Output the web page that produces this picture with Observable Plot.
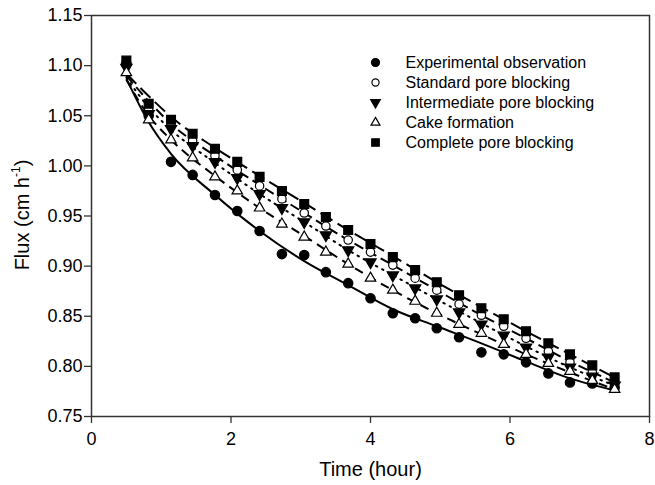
<!DOCTYPE html>
<html><head><meta charset="utf-8">
<script src="https://cdn.jsdelivr.net/npm/d3@7"></script>
<script src="https://cdn.jsdelivr.net/npm/@observablehq/plot@0.6"></script>
<style>
html,body{margin:0;padding:0;background:#fff;}
#chart{width:655px;height:485px;}
</style></head><body><div id="chart"></div>
<script>
// Measured times (hour)
const time = [0.50,0.82,1.14,1.45,1.77,2.09,2.41,2.73,3.05,3.36,3.68,4.00,4.32,4.64,4.95,5.27,5.59,5.91,6.23,6.55,6.86,7.18,7.50];
// Flux values (cm h-1) for each series
const experimental = [1.102,1.050,1.004,0.991,0.971,0.955,0.935,0.912,0.911,0.894,0.883,0.868,0.853,0.848,0.838,0.829,0.814,0.812,0.804,0.793,0.784,0.783,0.779];
const standard     = [1.102,1.056,1.040,1.025,1.010,0.996,0.980,0.967,0.953,0.940,0.926,0.914,0.901,0.888,0.876,0.862,0.851,0.840,0.828,0.815,0.804,0.794,0.784];
const intermediate = [1.098,1.052,1.037,1.020,1.004,0.988,0.972,0.958,0.944,0.931,0.916,0.904,0.891,0.878,0.867,0.854,0.842,0.831,0.819,0.809,0.799,0.790,0.781];
const cake         = [1.093,1.046,1.026,1.008,0.989,0.975,0.958,0.942,0.929,0.914,0.902,0.888,0.876,0.865,0.853,0.842,0.833,0.822,0.812,0.803,0.795,0.786,0.777];
const complete     = [1.105,1.062,1.046,1.032,1.017,1.004,0.989,0.975,0.962,0.949,0.936,0.922,0.909,0.896,0.884,0.871,0.858,0.847,0.835,0.823,0.812,0.801,0.789];

// Fitted curves
const fitTime            = [0.50,0.80,1.14,1.77,2.41,3.05,3.68,4.32,4.95,5.59,6.23,6.86,7.50];
const fitExperimental    = [1.087,1.046,1.012,0.971,0.935,0.905,0.881,0.857,0.840,0.823,0.805,0.788,0.776];
const fitStandard        = [1.090,1.066,1.042,1.010,0.981,0.953,0.926,0.901,0.876,0.851,0.828,0.805,0.784];
const fitIntermediate    = [1.088,1.060,1.036,1.003,0.972,0.944,0.916,0.891,0.867,0.843,0.820,0.799,0.781];
const fitCake            = [1.086,1.052,1.026,0.990,0.958,0.930,0.902,0.876,0.853,0.832,0.812,0.794,0.777];
const fitComplete        = [1.092,1.071,1.049,1.018,0.990,0.963,0.936,0.910,0.884,0.859,0.835,0.812,0.789];

const xTicks = [0,2,4,6,8];
const yTicks = [0.75,0.80,0.85,0.90,0.95,1.00,1.05,1.10,1.15];
const legendLabels = ["Experimental observation","Standard pore blocking","Intermediate pore blocking","Cake formation","Complete pore blocking"];

const triangleDown = {
  draw(context, size) {
    const y = -Math.sqrt(size / (Math.sqrt(3) * 3));
    context.moveTo(0, -y * 2);
    context.lineTo(-Math.sqrt(3) * y, y);
    context.lineTo(Math.sqrt(3) * y, y);
    context.closePath();
  }
};

const pts = arr => time.map((t, i) => ({t, f: arr[i]}));
const fit = arr => fitTime.map((t, i) => ({t, f: arr[i]}));

const series = [
  {values: experimental, fitv: fitExperimental, symbol: "circle", r: 4.7, fill: "black", stroke: "black", dash: null},
  {values: standard, fitv: fitStandard, symbol: "circle", r: 4.2, fill: "white", stroke: "black", dash: "10,5"},
  {values: intermediate, fitv: fitIntermediate, symbol: triangleDown, r: 4.2, fill: "black", stroke: "black", dash: "1.5,5.5"},
  {values: cake, fitv: fitCake, symbol: "triangle", r: 3.9, fill: "white", stroke: "black", dash: "9,6"},
  {values: complete, fitv: fitComplete, symbol: "square", r: 5.0, fill: "black", stroke: "black", dash: "14,6"}
];

const marks = [];
series.forEach(s => {
  marks.push(Plot.line(fit(s.fitv), {x: "t", y: "f", curve: "monotone-x", stroke: "black", strokeWidth: 2,
    strokeDasharray: s.dash, strokeLinecap: s.dash === "1.5,5.5" ? "round" : "butt"}));
});
series.forEach(s => {
  marks.push(Plot.dot(pts(s.values), {x: "t", y: "f", symbol: s.symbol, r: s.r, fill: s.fill, stroke: s.stroke, strokeWidth: 1.2}));
});
// legend
series.forEach((s, i) => {
  marks.push(Plot.dot([legendLabels[i]], {frameAnchor: "top-left", dx: 284, dy: 47 + i * 20, symbol: s.symbol, r: s.r * 0.85, fill: s.fill, stroke: s.stroke, strokeWidth: 1.2}));
  marks.push(Plot.text([legendLabels[i]], {frameAnchor: "top-left", dx: 314, dy: 47 + i * 20, text: d => d, textAnchor: "start", lineAnchor: "middle", fontSize: 16, fill: "black"}));
});
marks.push(Plot.frame({stroke: "#333", strokeWidth: 1.5}));
marks.push(Plot.axisY({ticks: yTicks, tickFormat: d3.format(".2f"), tickSize: 7, tickPadding: 2, label: null, stroke: "#333", strokeWidth: 1.3, fontSize: 18, fill: "black"}));
marks.push(Plot.axisX({ticks: xTicks, tickFormat: d3.format("d"), tickSize: 7, tickPadding: 9, label: null, stroke: "#333", strokeWidth: 1.3, fontSize: 18, fill: "black"}));
marks.push(Plot.text(["Time (hour)"], {frameAnchor: "bottom", dy: 53, text: d => d, lineAnchor: "middle", fontSize: 20, fill: "black"}));

const chart = Plot.plot({
  width: 655,
  height: 485,
  marginLeft: 91,
  marginRight: 6,
  marginTop: 15,
  marginBottom: 69,
  style: {fontFamily: "'Liberation Sans', Arial, sans-serif", fontSize: "18px", background: "white", color: "black"},
  x: {domain: [0, 8]},
  y: {domain: [0.75, 1.15]},
  marks
});

const svg = d3.select(chart);
const yl = svg.append("text")
  .attr("transform", "translate(24,215) rotate(-90)")
  .attr("text-anchor", "middle")
  .attr("dominant-baseline", "middle")
  .attr("font-size", 20)
  .attr("fill", "black");
yl.append("tspan").text("Flux (cm h");
yl.append("tspan").attr("baseline-shift", "super").attr("font-size", 12).text("-1");
yl.append("tspan").text(")");

document.getElementById("chart").appendChild(chart);
</script>
</body></html>
